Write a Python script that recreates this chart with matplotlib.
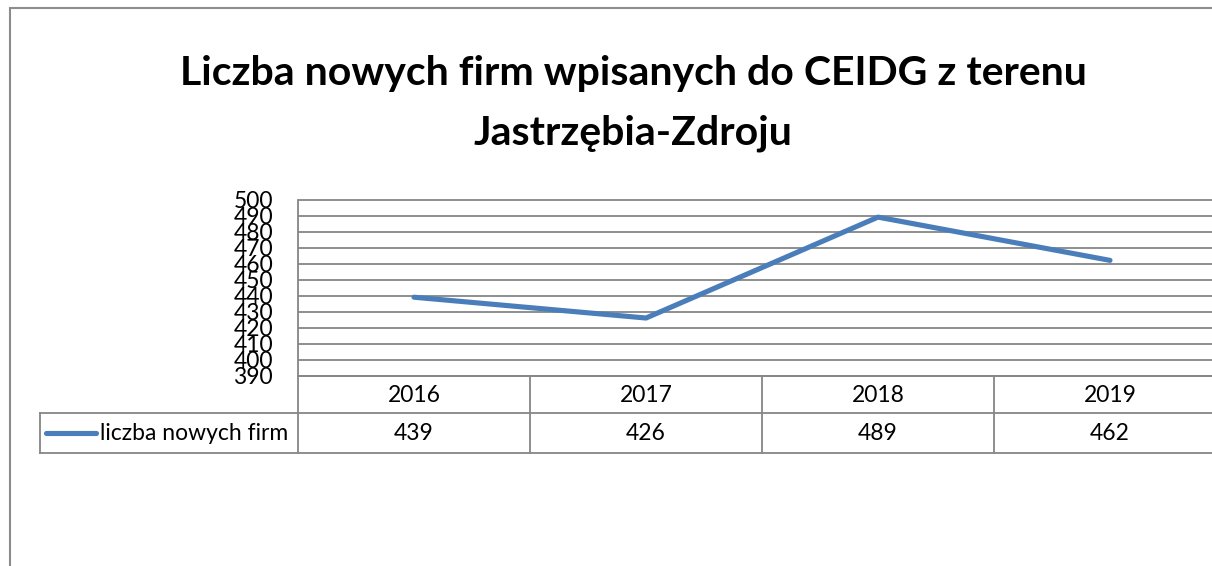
import matplotlib.pyplot as plt
import matplotlib.transforms as mtransforms
from matplotlib.lines import Line2D
from matplotlib.patches import Rectangle

years = ["2016", "2017", "2018", "2019"]
firms = [439, 426, 489, 462]
series_name = "liczba nowych firm"
title_lines = ["Liczba nowych firm wpisanych do CEIDG z terenu", "Jastrzębia-Zdroju"]
y_ticks = list(range(390, 501, 10))

W, H = 1212, 566
line_col = "#4a7ebb"
grid_col = "#868686"
fs = 16.5

plt.rcParams["font.family"] = ["Lato", "DejaVu Sans"]

fig = plt.figure(figsize=(W / 100, H / 100), dpi=100)

def fx(x):
    return x / W

def fy(y):
    return 1 - y / H

# outer chart frame (cut off at right and bottom)
fig.patches.append(Rectangle((fx(10), fy(600)), fx(1300), fy(8) - fy(600),
                             transform=fig.transFigure, fill=False,
                             edgecolor="#8c8c8c", linewidth=1.5))

for t, yy in zip(title_lines, (73, 133)):
    fig.text(fx(633), fy(yy), t, ha="center", va="center", fontsize=29.5,
             fontweight="bold")

# plot area, right side runs past the image edge
left, right, top, bottom = 298, 1226, 199.5, 375.7
ax = fig.add_axes([fx(left), fy(bottom), fx(right) - fx(left), (bottom - top) / H])
x = list(range(len(years)))
ax.plot(x, firms, color=line_col, linewidth=3.7, solid_capstyle="round", zorder=3)
ax.set_xlim(-0.5, len(years) - 0.5)
ax.set_ylim(390, 500)
ax.set_yticks(y_ticks)
ax.set_yticklabels([str(v) for v in y_ticks], fontsize=fs)
ax.tick_params(axis="y", length=0, pad=18)
ax.set_xticks([])
ax.hlines(y_ticks, -0.5, len(years) - 0.5, colors=grid_col, linewidth=1.3,
          clip_on=False, zorder=1)
for s in ax.spines.values():
    s.set_visible(False)

# data table under the plot
trans = mtransforms.blended_transform_factory(ax.transData, fig.transFigure)
row1, row2 = 413, 453
lw = 1.3
n = len(years)
fig.add_artist(Line2D([-0.5, n - 0.5], [fy(bottom)] * 2, transform=trans, color=grid_col, lw=lw))
for yy in (row1, row2):
    fig.add_artist(Line2D([fx(40), fx(1300)], [fy(yy)] * 2, transform=fig.transFigure,
                          color=grid_col, lw=lw))
fig.add_artist(Line2D([fx(40), fx(40)], [fy(row1), fy(row2)], transform=fig.transFigure,
                      color=grid_col, lw=lw))
fig.add_artist(Line2D([-0.5, -0.5], [fy(top), fy(row2)], transform=trans, color=grid_col, lw=lw))
for i in range(1, n):
    fig.add_artist(Line2D([i - 0.5, i - 0.5], [fy(bottom), fy(row2)], transform=trans,
                          color=grid_col, lw=lw))
for i, (yr, v) in enumerate(zip(years, firms)):
    fig.text(i, fy(395), yr, transform=trans, ha="center", va="center", fontsize=fs)
    fig.text(i, fy(434), str(v), transform=trans, ha="center", va="center", fontsize=fs)

# legend key in the table
fig.add_artist(Line2D([fx(46), fx(96)], [fy(433)] * 2, transform=fig.transFigure,
                      color=line_col, lw=3.7, solid_capstyle="round"))
fig.text(fx(100), fy(434), series_name, ha="left", va="center", fontsize=fs)

fig.savefig("out.png", dpi=100)
